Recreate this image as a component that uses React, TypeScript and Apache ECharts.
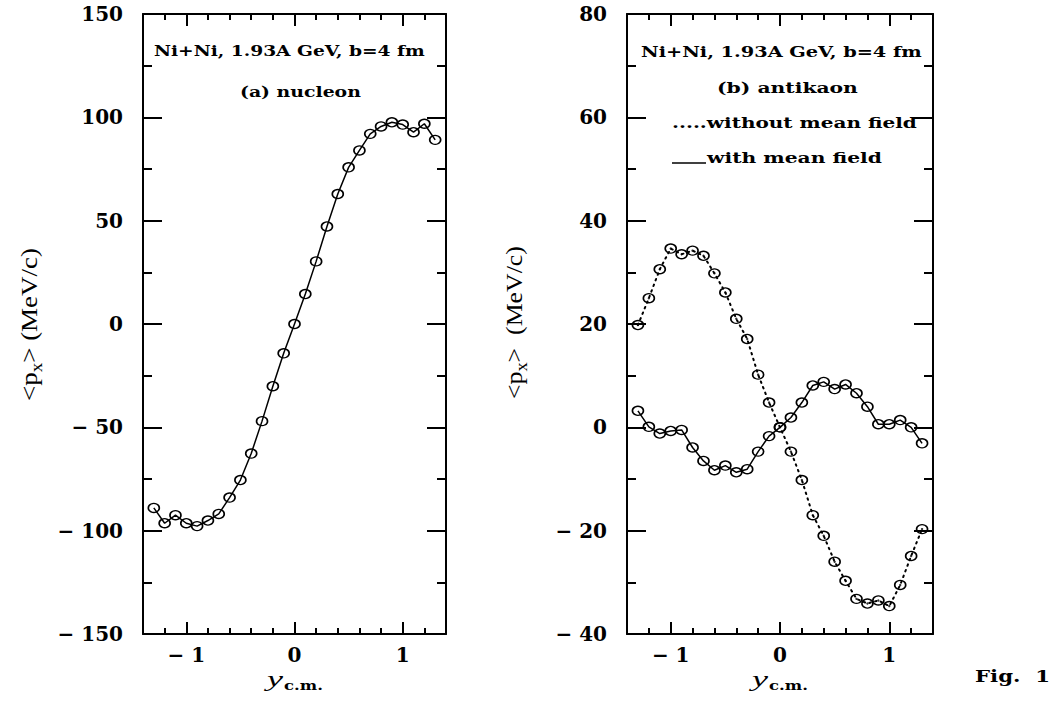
import React, { useEffect, useRef } from 'react';
import * as echarts from 'echarts';

// ---- data ----
const rapidity = [-1.3, -1.2, -1.1, -1.0, -0.9, -0.8, -0.7, -0.6, -0.5, -0.4, -0.3, -0.2, -0.1, 0, 0.1, 0.2, 0.3, 0.4, 0.5, 0.6, 0.7, 0.8, 0.9, 1.0, 1.1, 1.2, 1.3];
const nucleonPx = [-89.0, -96.4, -92.5, -96.4, -97.8, -95.1, -91.9, -84.0, -75.5, -62.7, -47.0, -30.1, -14.2, 0, 14.5, 30.3, 47.2, 62.9, 75.8, 84.0, 92.0, 95.6, 97.6, 96.5, 92.8, 96.9, 89.1];
const antikaonWithoutMF = [19.8, 25.0, 30.6, 34.6, 33.5, 34.2, 33.2, 29.8, 26.1, 21.0, 17.1, 10.2, 4.8, 0, -4.7, -10.2, -17.0, -21.0, -26.0, -29.7, -33.2, -34.1, -33.5, -34.6, -30.5, -24.9, -19.7];
const antikaonWithMF = [3.2, 0.1, -1.2, -0.7, -0.5, -3.9, -6.5, -8.3, -7.4, -8.7, -8.1, -4.7, -1.7, 0, 1.9, 4.8, 8.1, 8.8, 7.4, 8.3, 6.6, 4.0, 0.6, 0.6, 1.4, 0, -3.1];
const xMajorTicks = [-1, 0, 1];
const xMin = -1.4;
const xMax = 1.4;
const xMinorStep = 0.2;
const nucleonTicks = [-150, -100, -50, 0, 50, 100, 150];
const antikaonTicks = [-40, -20, 0, 20, 40, 60, 80];

const SERIF = '"DejaVu Serif", "Liberation Serif", serif';
const TSERIF = '"Liberation Serif", "DejaVu Serif", serif';

let mctx: CanvasRenderingContext2D | null = null;
function textWidth(text: string, font: string): number {
  if (!mctx) mctx = document.createElement('canvas').getContext('2d');
  mctx!.font = font;
  return mctx!.measureText(text).width;
}

function fitted(text: string, left: number, baseline: number, width: number, size: number, weight = 'bold', fstyle = 'normal', family = SERIF) {
  const w = textWidth(text, `${fstyle} ${weight} ${size}px ${family}`);
  return {
    type: 'text', x: left, y: baseline - 0.35 * size, scaleX: width / w, silent: true,
    style: { text, fill: '#000', fontSize: size, fontFamily: family, fontWeight: weight, fontStyle: fstyle, align: 'left', verticalAlign: 'middle' },
  };
}

function yTitle(cx: number, startY: number, length: number, tail: string) {
  const size = 24;
  const sub = 17;
  const f = `normal normal ${size}px ${TSERIF}`;
  const fs = `normal normal ${sub}px ${TSERIF}`;
  const w1 = textWidth('<p', f);
  const w2 = textWidth('x', fs);
  const w3 = textWidth(tail, f);
  const st = (text: string, s: number) => ({ text, fill: '#000', fontSize: s, fontFamily: TSERIF, align: 'left', verticalAlign: 'middle' });
  return {
    type: 'group', x: cx, y: startY, rotation: Math.PI / 2, scaleX: length / (w1 + w2 + w3), silent: true,
    children: [
      { type: 'text', x: 0, y: 0, style: st('<p', size) },
      { type: 'text', x: w1, y: 7, style: st('x', sub) },
      { type: 'text', x: w1 + w2, y: 0, style: st(tail, size) },
    ],
  };
}

const fmtY = (v: number) => (v < 0 ? '\u2212 ' + String(-v) : String(v));
const fmtX = (v: number) => {
  const r = Math.round(v);
  if (Math.abs(v - r) > 1e-6) return '';
  return r < 0 ? '\u2212 ' + String(-r) : String(r);
};

const BLACK = '#000';
const labelFont = { color: BLACK, fontFamily: SERIF, fontWeight: 'bold' as const, fontSize: 20 };

function mainX(grid: number, pos: 'bottom' | 'top', labels: boolean) {
  return {
    type: 'value', gridIndex: grid, position: pos, min: xMin, max: xMax,
    axisLine: { show: true, onZero: false, lineStyle: { color: BLACK, width: 2 } },
    axisTick: { show: true, inside: true, length: 12, customValues: xMajorTicks, lineStyle: { color: BLACK, width: 2 } },
    axisLabel: { show: labels, customValues: xMajorTicks, formatter: fmtX, margin: 11, ...labelFont },
    splitLine: { show: false },
  };
}
function minorX(grid: number, pos: 'bottom' | 'top') {
  return {
    type: 'value', gridIndex: grid, position: pos, min: xMin, max: xMax, interval: xMinorStep,
    axisLine: { show: false, onZero: false },
    axisTick: { show: true, inside: true, length: 6, lineStyle: { color: BLACK, width: 2 } },
    axisLabel: { show: false },
    splitLine: { show: false },
  };
}
function mainY(grid: number, pos: 'left' | 'right', ticks: number[], labels: boolean) {
  return {
    type: 'value', gridIndex: grid, position: pos, min: ticks[0], max: ticks[ticks.length - 1], interval: ticks[1] - ticks[0],
    axisLine: { show: true, onZero: false, lineStyle: { color: BLACK, width: 2 } },
    axisTick: { show: true, inside: true, length: 19, lineStyle: { color: BLACK, width: 2 } },
    minorTick: { show: true, splitNumber: 2, length: 9, lineStyle: { color: BLACK, width: 2 } },
    axisLabel: { show: labels, formatter: fmtY, margin: 20, ...labelFont },
    splitLine: { show: false },
    minorSplitLine: { show: false },
  };
}
function hiddenY(grid: number, ticks: number[]) {
  return { type: 'value', gridIndex: grid, show: false, min: ticks[0], max: ticks[ticks.length - 1] };
}

const pairs = (ys: number[]) => rapidity.map((x, i) => [x, ys[i]]);

const circleStyle = { color: 'rgba(0,0,0,0)', borderColor: BLACK, borderWidth: 1.5 };

export default function App() {
  const ref = useRef<HTMLDivElement>(null);
  useEffect(() => {
    if (!ref.current) return;
    const chart = echarts.init(ref.current, undefined, { renderer: 'svg' });
    const gL = { left: 143, top: 14, width: 303, height: 620 };
    const gR = { left: 627, top: 14, width: 306, height: 620 };
    const option = {
      animation: false,
      backgroundColor: '#fff',
      grid: [gL, gL, gR, gR].map((g) => ({ ...g, containLabel: false })),
      xAxis: [
        mainX(0, 'bottom', true), mainX(0, 'top', false), minorX(1, 'bottom'), minorX(1, 'top'),
        mainX(2, 'bottom', true), mainX(2, 'top', false), minorX(3, 'bottom'), minorX(3, 'top'),
      ],
      yAxis: [
        mainY(0, 'left', nucleonTicks, true), mainY(0, 'right', nucleonTicks, false), hiddenY(1, nucleonTicks),
        mainY(2, 'left', antikaonTicks, true), mainY(2, 'right', antikaonTicks, false), hiddenY(3, antikaonTicks),
      ],
      series: [
        {
          name: 'nucleon', type: 'line', xAxisIndex: 0, yAxisIndex: 0, data: pairs(nucleonPx),
          symbol: 'circle', symbolSize: [11, 9], itemStyle: circleStyle,
          lineStyle: { color: BLACK, width: 1.5 }, z: 3,
        },
        {
          name: 'without mean field', type: 'line', xAxisIndex: 4, yAxisIndex: 3, data: pairs(antikaonWithoutMF),
          symbol: 'circle', symbolSize: [11, 9], itemStyle: circleStyle,
          lineStyle: { color: BLACK, width: 2, type: [1.5, 4.5], cap: 'round' }, z: 3,
        },
        {
          name: 'without mean field dots', type: 'scatter', xAxisIndex: 4, yAxisIndex: 3, data: pairs(antikaonWithoutMF),
          symbol: 'circle', symbolSize: 2.4, itemStyle: { color: BLACK }, z: 4,
        },
        {
          name: 'with mean field', type: 'line', xAxisIndex: 4, yAxisIndex: 3, data: pairs(antikaonWithMF),
          symbol: 'circle', symbolSize: [11, 9], itemStyle: circleStyle,
          lineStyle: { color: BLACK, width: 1.5 }, z: 3,
        },
      ],
      graphic: [
        fitted('Ni+Ni, 1.93A GeV, b=4 fm', 154, 56.7, 271, 14),
        fitted('(a) nucleon', 240, 97.3, 121, 14),
        fitted('Ni+Ni, 1.93A GeV, b=4 fm', 641, 56.7, 281, 14),
        fitted('(b) antikaon', 717, 93.3, 141, 14),
        fitted('.....without mean field', 672, 128.3, 245, 14),
        { type: 'line', shape: { x1: 672, y1: 163, x2: 706, y2: 163 }, style: { stroke: BLACK, lineWidth: 1.5 }, silent: true },
        fitted('with mean field', 707, 163.3, 175, 14),
        yTitle(29, 401, 153, '> (MeV/c)'),
        yTitle(514, 399, 153, '>  (MeV/c)'),
        fitted('y', 267, 686, 16, 20, 'normal', 'italic', TSERIF),
        fitted('c.m.', 284, 690, 39, 12),
        fitted('y', 752, 686, 16, 20, 'normal', 'italic', TSERIF),
        fitted('c.m.', 769, 690, 39, 12),
        fitted('Fig.  1', 975, 682, 75, 17),
      ],
    };
    chart.setOption(option as any);
    return () => chart.dispose();
  }, []);
  return <div ref={ref} style={{ position: 'absolute', left: 0, top: 0, width: 1060, height: 702 }} />;
}
